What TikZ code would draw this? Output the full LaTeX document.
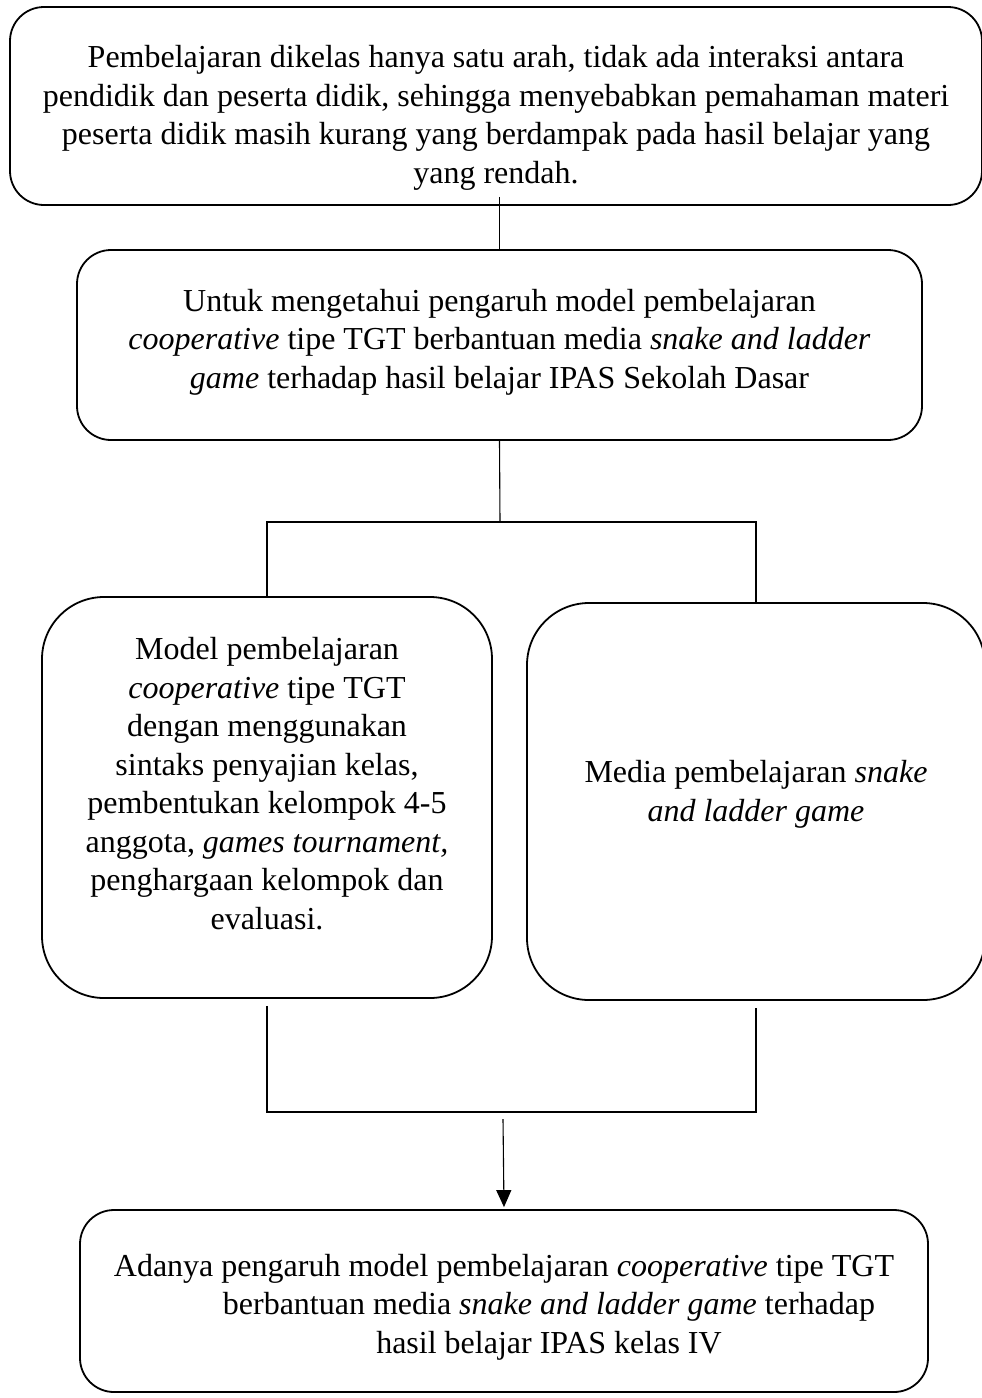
\documentclass[tikz,border=0pt]{standalone}
\usepackage{fontspec}
\setmainfont{Liberation Serif}
\usepackage{tikz}
\usetikzlibrary{arrows.meta}
\usetikzlibrary{positioning}

\begin{document}
\begin{tikzpicture}[x=1pt,y=-1pt,
  every node/.style={font=\fontsize{32}{38.5}\selectfont,inner sep=0pt},
  box/.style={draw,line width=1.8pt},
  teks/.style={align=center},
  link/.style={line width=1.1pt}]
  \useasboundingbox (0,0) rectangle (982,1398);

  \node[box,rounded corners=34pt,minimum width=972pt,minimum height=198pt] (masalah) at (496,106) {};
  \node[teks] (masalah-t) at ([yshift=-12pt]masalah.center)
    {Pembelajaran dikelas hanya satu arah, tidak ada interaksi antara\\
     pendidik dan peserta didik, sehingga menyebabkan pemahaman materi\\
     peserta didik masih kurang yang berdampak pada hasil belajar yang\\
     yang rendah.};

  \node[box,rounded corners=34pt,minimum width=845pt,minimum height=190pt] (tujuan) at (499.5,345) {};
  \node[teks] (tujuan-t) at ([yshift=3pt]tujuan.center)
    {Untuk mengetahui pengaruh model pembelajaran\\
     \textit{cooperative} tipe TGT berbantuan media \textit{snake and ladder}\\
     \textit{game} terhadap hasil belajar IPAS Sekolah Dasar};

  \node[box,rounded corners=62pt,minimum width=450pt,minimum height=401pt] (model) at (267,797.5) {};
  \node[teks] (model-t) at ([yshift=14pt]model.center)
    {Model pembelajaran\\
     \textit{cooperative} tipe TGT\\
     dengan menggunakan\\
     sintaks penyajian kelas,\\
     pembentukan kelompok 4-5\\
     anggota, \textit{games tournament,}\\
     penghargaan kelompok dan\\
     evaluasi.};

  \node[box,rounded corners=62pt,minimum width=458pt,minimum height=397pt] (media) at (756,801.5) {};
  \node[teks] (media-t) at ([yshift=7pt]media.center)
    {Media pembelajaran \textit{snake}\\
     \textit{and ladder game}};

  \node[box,rounded corners=34pt,minimum width=848pt,minimum height=182pt] (hasil) at (504,1301) {};
  \node[teks] (hasil-t) at ([yshift=-6pt]hasil.center)
    {Adanya pengaruh model pembelajaran \textit{cooperative} tipe TGT\\
     \hspace*{90pt}berbantuan media \textit{snake and ladder game} terhadap\\
     \hspace*{90pt}hasil belajar IPAS kelas IV};

  \coordinate (cabang) at (500,522);
  \coordinate (gabung) at (503,1112);

  \draw[link] ([yshift=9pt]masalah.south -| tujuan.north) -- (tujuan.north);
  \draw[link] (tujuan.south) -- (cabang);
  \draw[link] (model.north) |- (cabang) -| (media.north);
  \draw[link] ([yshift=-7pt]model.south) |- (gabung) -| ([yshift=-7pt]media.south);
  \draw[link,-{Triangle[width=15pt,length=17pt]}] ([yshift=-7pt]gabung) -- ([yshift=2pt]hasil.north);
\end{tikzpicture}
\end{document}
